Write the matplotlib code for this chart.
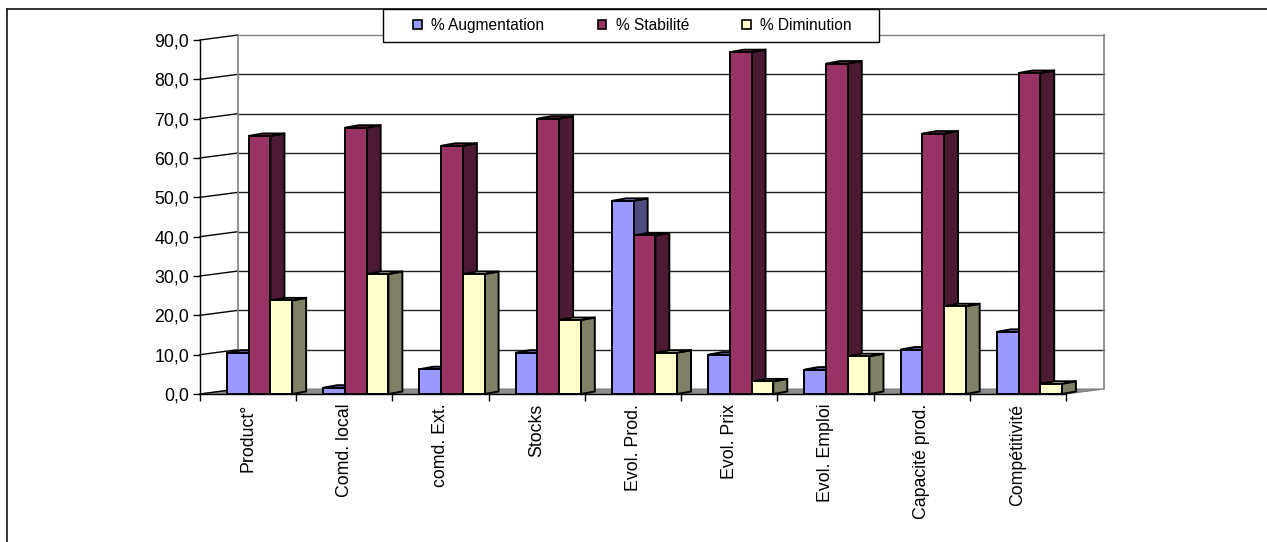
import numpy as np
import matplotlib
matplotlib.use('Agg')
import matplotlib.pyplot as plt
from matplotlib.patches import Polygon, Patch, Rectangle
from matplotlib.lines import Line2D
from matplotlib.transforms import IdentityTransform

plt.rcParams['font.family'] = ['Liberation Sans', 'DejaVu Sans']

# categories and series (%)
categories = ['Product°', 'Comd. local', 'comd. Ext.', 'Stocks', 'Evol. Prod.',
              'Evol. Prix', 'Evol. Emploi', 'Capacité prod.', 'Compétitivité']
augmentation = [10.5, 1.6, 6.3, 10.5, 49.1, 10.0, 6.2, 11.3, 15.8]
stabilite = [65.6, 67.7, 63.1, 70.0, 40.3, 86.9, 84.0, 66.2, 81.6]
diminution = [23.8, 30.5, 30.5, 18.8, 10.5, 3.2, 9.6, 22.3, 2.6]
series_names = ['% Augmentation', '% Stabilité', '% Diminution']
y_ticks = [0, 10, 20, 30, 40, 50, 60, 70, 80, 90]

front_cols = ['#9999FF', '#993366', '#FFFFCC']
side_cols = ['#4D4D80', '#4D1A33', '#808066']

W, H = 1267, 542
fig = plt.figure(figsize=(W / 100, H / 100), dpi=100)

# the front plane of the 3d box
ax = fig.add_axes([200 / W, (H - 394) / H, 866 / W, 354 / H])
ax.set_xlim(0, len(categories))
ax.set_ylim(0, 90)
ax.patch.set_visible(False)
for s in ['top', 'right']:
    ax.spines[s].set_visible(False)
for s in ['left', 'bottom']:
    ax.spines[s].set_color('black')
    ax.spines[s].set_linewidth(1.0)
    ax.spines[s].set_zorder(10)

wall = (38, 5)     # depth of the chart box, pixels
depth = (14, 2.5)  # depth of each bar, pixels
ident = IdentityTransform()


def px(x, v, off=(0, 0)):
    X, Y = ax.transData.transform((x, v))
    return (X + off[0], Y + off[1])


n = len(categories)
# floor
floor = [px(0, 0), px(n, 0), px(n, 0, wall), px(0, 0, wall)]
ax.add_patch(Polygon(floor, closed=True, facecolor='#8c8c8c', edgecolor='#808080',
                     lw=0.8, transform=ident, clip_on=False, zorder=0.5))

# back wall grid and left wall lines
for v in y_ticks:
    a = px(0, v)
    b = px(0, v, wall)
    c = px(n, v, wall)
    ax.add_line(Line2D([a[0], b[0]], [a[1], b[1]], color='black', lw=1.0,
                       transform=ident, clip_on=False, zorder=1))
    if v == 90:
        col = '#808080'
    elif v == 0:
        continue
    else:
        col = '#222222'
    ax.add_line(Line2D([b[0], c[0]], [b[1], c[1]], color=col, lw=1.0,
                       transform=ident, clip_on=False, zorder=1))
b0, b1 = px(0, 0, wall), px(0, 90, wall)
ax.add_line(Line2D([b0[0], b1[0]], [b0[1], b1[1]], color='#808080', lw=1.2,
                   transform=ident, clip_on=False, zorder=1.1))
c0, c1 = px(n, 0, wall), px(n, 90, wall)
ax.add_line(Line2D([c0[0], c1[0]], [c0[1], c1[1]], color='#808080', lw=1.2,
                   transform=ident, clip_on=False, zorder=1.1))

# bars
bw = 0.2255
x0 = np.arange(n) + 0.281
for k, vals in enumerate([augmentation, stabilite, diminution]):
    lefts = x0 + k * bw
    z = 3 + k
    for l, v in zip(lefts, vals):
        side = [px(l + bw, 0), px(l + bw, v), px(l + bw, v, depth), px(l + bw, 0, depth)]
        top = [px(l, v), px(l + bw, v), px(l + bw, v, depth), px(l, v, depth)]
        ax.add_patch(Polygon(side, closed=True, facecolor=side_cols[k], edgecolor='black',
                             lw=1.4, transform=ident, clip_on=False, zorder=z))
        ax.add_patch(Polygon(top, closed=True, facecolor=front_cols[k], edgecolor='black',
                             lw=1.4, transform=ident, clip_on=False, zorder=z))
    ax.bar(lefts, vals, width=bw, align='edge', color=front_cols[k], edgecolor='black',
           linewidth=1.4, zorder=z + 0.1, clip_on=False)

# axes ticks
ax.set_yticks(y_ticks)
ax.set_yticklabels([f'{v:.1f}'.replace('.', ',') for v in y_ticks], fontsize=12.8)
ax.tick_params(axis='y', direction='out', length=5, width=1, pad=3)
ax.set_xticks(np.arange(n + 1))
ax.set_xticklabels([])
ax.tick_params(axis='x', which='major', direction='out', length=5, width=1)
ax.set_xticks(np.arange(n) + 0.5, minor=True)
ax.set_xticklabels(categories, minor=True, rotation=90, fontsize=12.8, va='top', ha='center')
ax.tick_params(axis='x', which='minor', length=0, pad=7)

# outer chart frame (runs off the right and bottom)
fig.add_artist(Line2D([7 / W, 1.0], [1 - 9 / H, 1 - 9 / H], color='#222222', lw=1.3,
                      transform=fig.transFigure))
fig.add_artist(Line2D([7 / W, 7 / W], [1 - 9 / H, 0.0], color='#222222', lw=1.3,
                      transform=fig.transFigure))

# legend
fig.add_artist(Rectangle((383 / W, 1 - 42 / H), (879 - 383) / W, 33 / H,
                         transform=fig.transFigure, facecolor='white', edgecolor='black',
                         lw=1.0, zorder=4))
handles = [Patch(facecolor=c, edgecolor='black', lw=1.2) for c in front_cols]
fig.legend(handles, series_names, loc='center', ncol=3, mode='expand', frameon=False,
           bbox_to_anchor=(413 / W, 1 - 42 / H, (852 - 413) / W, 33 / H),
           borderpad=0, borderaxespad=0, fontsize=11.2, handlelength=0.55,
           handleheight=0.55, handletextpad=0.6)

fig.savefig('out.png', dpi=100)
